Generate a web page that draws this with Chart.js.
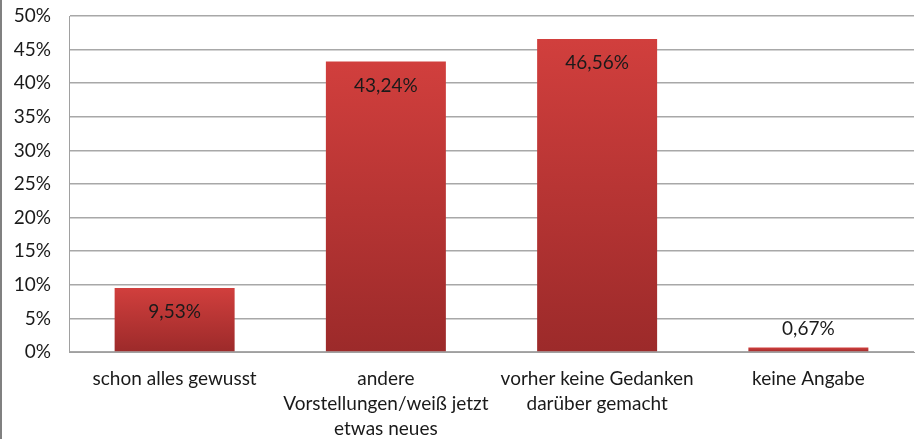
<!DOCTYPE html>
<html>
<head>
<meta charset="utf-8">
<script src="https://cdn.jsdelivr.net/npm/chart.js@4/dist/chart.umd.min.js"></script>
<style>
html,body{margin:0;padding:0;background:#fff;}
#wrap{position:relative;width:918px;height:439px;}
#edge{position:absolute;left:0;top:0;width:2px;height:439px;background:#808080;}
canvas{display:block;}
</style>
</head>
<body>
<div id="wrap"><canvas id="c" width="918" height="439"></canvas><div id="edge"></div></div>
<script>
const categories = [
  ["schon alles gewusst"],
  ["andere", "Vorstellungen/weiß jetzt", "etwas neues"],
  ["vorher keine Gedanken", "darüber gemacht"],
  ["keine Angabe"]
];
const values = [9.53, 43.24, 46.56, 0.67];
const yTicks = [0, 5, 10, 15, 20, 25, 30, 35, 40, 45, 50];

const FONT = "Lato, 'Open Sans', sans-serif";
const TEXT = "#1a1a1a";

function fmt(v){ return v.toFixed(2).replace('.', ',') + '%'; }

const labelPlugin = {
  id: 'valLabels',
  afterDatasetsDraw(chart){
    const ctx = chart.ctx;
    const meta = chart.getDatasetMeta(0);
    ctx.save();
    ctx.font = "19px " + FONT;
    ctx.fillStyle = TEXT;
    ctx.textAlign = 'center';
    ctx.textBaseline = 'middle';
    meta.data.forEach((el, i) => {
      const h = el.base - el.y;
      const y = h > 40 ? el.y + 24 : el.y - 19;
      ctx.fillText(fmt(values[i]), el.x, y);
    });
    ctx.restore();
  }
};

new Chart(document.getElementById('c'), {
  type: 'bar',
  data: {
    labels: categories,
    datasets: [{
      data: values,
      backgroundColor(context){
        const chart = context.chart;
        const ys = chart.scales.y;
        if (!ys) return '#c0393a';
        const v = context.raw || 0;
        const top = ys.getPixelForValue(v);
        const bot = ys.getPixelForValue(0);
        if (!isFinite(top) || !isFinite(bot) || bot - top < 1) return '#c73a3a';
        const g = chart.ctx.createLinearGradient(0, top, 0, bot);
        g.addColorStop(0, '#d13f3d');
        g.addColorStop(1, '#9c2a2a');
        return g;
      },
      borderWidth: 0,
      categoryPercentage: 1,
      barPercentage: 0.568
    }]
  },
  options: {
    responsive: false,
    animation: false,
    layout: { padding: { left: 2, right: 4, top: 16, bottom: 0 } },
    plugins: { legend: { display: false }, tooltip: { enabled: false } },
    scales: {
      x: {
        afterFit(s){ s.height = 87; s.paddingLeft = 0; s.paddingRight = 0; },
        grid: { display: false, drawTicks: false },
        border: { display: true, color: '#a0a0a0', width: 1 },
        ticks: { color: TEXT, font: { family: FONT, size: 19, lineHeight: 1.32 }, padding: 14, maxRotation: 0, autoSkip: false }
      },
      y: {
        min: 0, max: 50,
        afterFit(s){ s.width = 67; s.paddingTop = 0; s.paddingBottom = 0; },
        afterBuildTicks(s){ s.ticks = yTicks.map(v => ({ value: v })); },
        grid: { color: '#a8a8a8', lineWidth: 1.5, drawTicks: false },
        border: { display: true, color: '#a0a0a0', width: 1 },
        ticks: { color: TEXT, font: { family: FONT, size: 19 }, padding: 18, callback: v => v + '%' }
      }
    }
  },
  plugins: [labelPlugin]
});
</script>
</body>
</html>
